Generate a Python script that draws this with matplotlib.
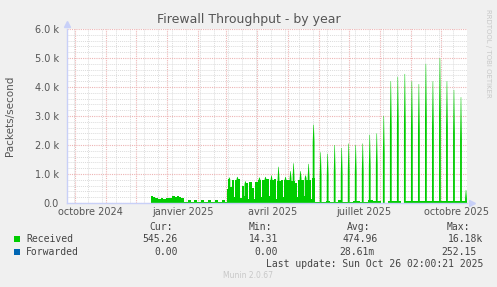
import matplotlib
matplotlib.use('Agg')
import matplotlib.pyplot as plt
import matplotlib.dates as mdates
from matplotlib.patches import Rectangle
import numpy as np
import pandas as pd

# time window of the munin "by year" graph
x_start = '2024-09-23'
x_end = '2025-10-27'

# slowly varying part of "Received" (packets/second), step per date
base_dates = ['2024-12-16', '2024-12-18', '2024-12-20', '2024-12-23', '2024-12-26',
              '2024-12-28', '2024-12-31', '2025-01-03', '2025-01-06', '2025-01-09',
              '2025-01-11', '2025-01-13', '2025-01-15', '2025-01-18', '2025-01-22',
              '2025-01-25', '2025-01-28', '2025-01-31', '2025-02-04', '2025-02-07',
              '2025-02-11', '2025-02-14', '2025-02-18', '2025-02-21', '2025-02-25',
              '2025-02-28', '2025-03-02', '2025-03-03', '2025-03-05', '2025-03-07',
              '2025-03-09', '2025-03-10', '2025-03-13', '2025-03-15', '2025-03-17',
              '2025-03-19', '2025-03-21', '2025-03-23', '2025-03-24', '2025-03-27',
              '2025-03-29', '2025-03-30', '2025-04-02', '2025-04-05', '2025-04-06',
              '2025-04-10', '2025-04-12', '2025-04-13', '2025-04-17', '2025-04-19',
              '2025-04-20', '2025-04-24', '2025-04-26', '2025-04-27', '2025-05-01',
              '2025-05-03', '2025-05-04', '2025-05-08', '2025-05-10', '2025-05-11',
              '2025-05-15', '2025-05-17', '2025-05-18', '2025-05-22', '2025-05-24',
              '2025-05-25', '2025-05-28', '2025-06-08', '2025-06-12', '2025-06-20',
              '2025-06-23', '2025-07-05', '2025-07-12', '2025-07-20', '2025-07-25',
              '2025-08-02', '2025-08-09', '2025-08-22', '2025-08-25', '2025-09-10',
              '2025-09-20', '2025-10-05', '2025-10-27']
base_vals = [240, 200, 165, 150, 175,
             155, 170, 160, 230, 195,
             250, 200, 180, 30, 100,
             35, 110, 35, 105, 35,
             100, 35, 110, 35, 100,
             40, 480, 820, 560, 800,
             200, 780, 820, 180, 600,
             250, 700, 150, 720, 500,
             150, 720, 800, 200, 800,
             830, 250, 790, 820, 150,
             750, 780, 200, 780, 800,
             150, 760, 700, 200, 800,
             780, 250, 800, 780, 150,
             850, 50, 80, 50, 90,
             50, 70, 50, 90, 60,
             0, 60, 0, 60, 80,
             60, 70, 60]

# short bursts (peak = faint top, solid = fully covered part)
spike_dates = ['2025-03-04', '2025-03-12', '2025-03-20', '2025-04-03', '2025-04-09',
               '2025-04-15', '2025-04-22', '2025-04-29', '2025-05-04', '2025-05-07',
               '2025-05-14', '2025-05-19', '2025-05-22', '2025-05-27', '2025-06-03',
               '2025-06-10', '2025-06-17', '2025-06-24', '2025-07-01', '2025-07-08',
               '2025-07-15', '2025-07-22', '2025-07-29', '2025-08-05', '2025-08-12',
               '2025-08-19', '2025-08-26', '2025-09-02', '2025-09-09', '2025-09-16',
               '2025-09-23', '2025-09-30', '2025-10-07', '2025-10-14', '2025-10-21',
               '2025-10-26']
spike_peak = [880, 900, 750, 880, 900,
              950, 1250, 900, 1100, 1370,
              1100, 950, 1350, 2700, 1750,
              1700, 2000, 1900, 2050, 2000,
              2050, 2350, 2400, 3000, 4200,
              4350, 4450, 4200, 4100, 4800,
              4200, 5000, 4200, 3900, 3650,
              450]
spike_solid = [800, 820, 650, 800, 820,
               800, 850, 800, 850, 900,
               850, 850, 900, 2100, 950,
               950, 1050, 1000, 1100, 1050,
               1100, 1250, 1300, 1700, 2600,
               2700, 2700, 2600, 2500, 2900,
               2600, 3000, 2600, 2400, 2200,
               150]

yticks = [0, 1000, 2000, 3000, 4000, 5000, 6000]
ytick_labels = ['0.0', '1.0 k', '2.0 k', '3.0 k', '4.0 k', '5.0 k', '6.0 k']
xlabel_months = ['2024-10', '2025-01', '2025-04', '2025-07', '2025-10']
xlabel_text = ['octobre 2024', 'janvier 2025', 'avril 2025', 'juillet 2025', 'octobre 2025']

legend_names = ['Received', 'Forwarded']
legend_colors = ['#00CC00', '#0066B3']
cur_vals = ['545.26', '0.00']
min_vals = ['14.31', '0.00']
avg_vals = ['474.96', '28.61m']
max_vals = ['16.18k', '252.15']

W, H = 497, 287
TXT = '#555555'


def fx(x):
    return x / W


def fy(y):
    return 1 - y / H


def main():
    fig = plt.figure(figsize=(W / 100, H / 100), dpi=100)
    fig.patch.set_facecolor('#F0F0F0')
    ax = fig.add_axes([fx(67), fy(203), (467 - 67) / W, (203 - 29) / H])
    ax.set_facecolor('white')

    t0 = mdates.date2num(pd.Timestamp(x_start))
    t1 = mdates.date2num(pd.Timestamp(x_end))

    # grid: red dotted at month starts, grey dotted every two weeks
    months = pd.date_range('2024-10-01', '2025-10-01', freq='MS')
    weeks = pd.date_range('2024-09-30', x_end, freq='14D')
    ax.set_xticks(mdates.date2num(months))
    ax.set_xticks(mdates.date2num(weeks), minor=True)
    ax.set_yticks(yticks)
    ax.set_yticks(np.arange(0, 6001, 200), minor=True)
    ax.grid(which='minor', color='#DCDCDC', linestyle=(0, (1, 1)), linewidth=0.7)
    ax.grid(which='major', color='#EDB4B4', linestyle=(0, (1, 1)), linewidth=0.8)
    ax.set_axisbelow(True)
    ax.tick_params(which='both', length=0)
    ax.set_xticklabels([])
    ax.set_yticklabels(ytick_labels, color=TXT, fontsize=7)
    ax.tick_params(axis='y', pad=6)

    # received: base level + bursts
    bd = mdates.date2num(pd.to_datetime(base_dates))
    ax.fill_between(bd, 0, base_vals, step='post', color=legend_colors[0],
                    linewidth=0, zorder=3)
    w0, w1 = 1.8, 0.45
    for d, p, s in zip(spike_dates, spike_peak, spike_solid):
        c = mdates.date2num(pd.Timestamp(d))
        xs = [c - w0 / 2, c - w0 / 2, c - w1 / 2, c + w1 / 2, c + w0 / 2, c + w0 / 2]
        ys = [0, s, p, p, s, 0]
        ax.fill(xs, ys, color=legend_colors[0], linewidth=0, zorder=3)

    # forwarded stays at ~0
    ax.plot(bd, np.zeros(len(bd)), color=legend_colors[1], linewidth=0.5, zorder=2)

    ax.set_xlim(t0, t1)
    ax.set_ylim(0, 6000)

    for sp in ['top', 'right']:
        ax.spines[sp].set_visible(False)
    for sp in ['left', 'bottom']:
        ax.spines[sp].set_color('#C8D0F8')
        ax.spines[sp].set_linewidth(1)
        ax.spines[sp].set_zorder(5)
    ax.plot([0], [1.03], marker='^', color='#C8D0F8', markersize=4,
            transform=ax.transAxes, clip_on=False)
    ax.plot([1.013], [0], marker='>', color='#C8D0F8', markersize=4,
            transform=ax.transAxes, clip_on=False)

    # month labels centred in their month
    for m, lab in zip(xlabel_months, xlabel_text):
        a = pd.Timestamp(m + '-01')
        b = a + pd.offsets.MonthBegin(1)
        mid = mdates.date2num(a + (b - a) / 2)
        ax.text(mid, -0.05, lab, transform=ax.get_xaxis_transform(),
                ha='center', va='center', fontsize=7, color=TXT)

    fig.text(fx(248.5), fy(20), 'Firewall Throughput - by year', ha='center',
             va='center', fontsize=9, color=TXT)
    fig.text(fx(10), fy(116), 'Packets/second', rotation=90, ha='center',
             va='center', fontsize=7.5, color=TXT)
    fig.text(fx(488), fy(53), 'RRDTOOL / TOBI OETIKER', rotation=270, ha='center',
             va='center', fontsize=5, color='#C8C8C8')

    mono = dict(family='DejaVu Sans Mono', fontsize=7, color='#444444', va='center')
    for x, h in zip([161, 260, 359, 458], ['Cur:', 'Min:', 'Avg:', 'Max:']):
        fig.text(fx(x), fy(227), h, ha='center', **mono)
    rows_y = [239, 252]
    cur_x = [178, 178]
    min_x = [278, 278]
    avg_x = [378, 375]
    max_x = [483, 477]
    for i, name in enumerate(legend_names):
        y = rows_y[i]
        fig.patches.append(Rectangle((fx(14), fy(y + 3)), 6 / W, 6 / H,
                                     transform=fig.transFigure,
                                     color=legend_colors[i], linewidth=0))
        fig.text(fx(26), fy(y), name, ha='left', **mono)
        fig.text(fx(cur_x[i]), fy(y), cur_vals[i], ha='right', **mono)
        fig.text(fx(min_x[i]), fy(y), min_vals[i], ha='right', **mono)
        fig.text(fx(avg_x[i]), fy(y), avg_vals[i], ha='right', **mono)
        fig.text(fx(max_x[i]), fy(y), max_vals[i], ha='right', **mono)
    fig.text(fx(483), fy(264), 'Last update: Sun Oct 26 02:00:21 2025', ha='right', **mono)
    fig.text(fx(248), fy(276), 'Munin 2.0.67', ha='center', va='center',
             fontsize=5.5, color='#C8C8C8')

    fig.savefig('out.png', dpi=100, facecolor=fig.get_facecolor())


if __name__ == "__main__":
    main()
